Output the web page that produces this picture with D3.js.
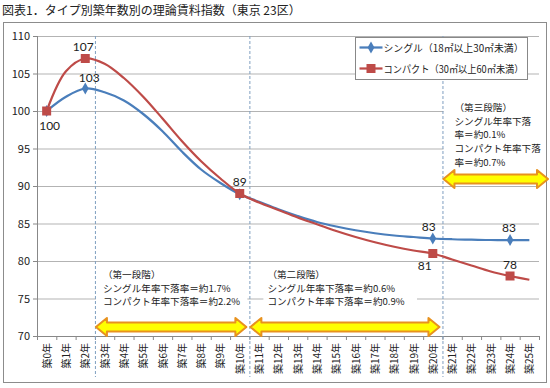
<!DOCTYPE html>
<html lang="ja">
<head>
<meta charset="UTF-8">
<title>理論賃料指数</title>
<script src="https://cdn.jsdelivr.net/npm/d3@7"></script>
<style>
  * { margin: 0; padding: 0; }
  body { background: #fff; }
  text { font-family: "Noto Sans CJK JP", "Noto Sans", sans-serif; fill: #222; }
</style>
</head>
<body>
<svg></svg>
<script>
  // data
  const years = d3.range(26).map(i => `築${i}年`);
  const single = [100, 101.9, 103, 102.5, 101.4, 99.6, 97.3, 94.6, 92.2, 90.4, 88.9, 87.9, 86.9, 86.0, 85.2, 84.6, 84.1, 83.7, 83.4, 83.2, 83.0, 82.9, 82.85, 82.8, 82.8, 82.8];
  const compact = [100, 105.3, 107, 106.3, 104.4, 101.9, 99.0, 96.0, 93.3, 91.0, 89.0, 87.8, 86.8, 85.8, 84.9, 84.0, 83.2, 82.5, 81.9, 81.4, 81.0, 80.2, 79.4, 78.6, 78.0, 77.5];
  const markerIdx = [0, 2, 10, 20, 24];
  const yTicks = [70, 75, 80, 85, 90, 95, 100, 105, 110];
  const seriesNames = ['シングル（18㎡以上30㎡未満）', 'コンパクト（30㎡以上60㎡未満）'];
  const phaseBreaks = [3, 11, 21];   // dashed lines before these years
  const phaseText = [
    ['（第一段階）', 'シングル年率下落率＝約1.7%', 'コンパクト年率下落率＝約2.2%'],
    ['（第二段階）', 'シングル年率下落率＝約0.6%', 'コンパクト年率下落率＝約0.9%'],
    ['（第三段階）', 'シングル年率下落', '率＝約0.1%', 'コンパクト年率下落', '率＝約0.7%']
  ];

  const W = 550, H = 388;
  const svg = d3.select('svg').attr('width', W).attr('height', H);
  const margin = { left: 37, top: 36, right: 11, bottom: 52 };
  const x = d3.scaleBand().domain(years).range([margin.left, W - margin.right]);
  const y = d3.scaleLinear().domain([70, 110]).range([H - margin.bottom, margin.top]);
  const cx = i => x(years[i]) + x.bandwidth() / 2;
  const bx = i => margin.left + i * x.step();   // band boundary

  const blue = '#4a7ebb', red = '#be4b48';

  // title + frame
  svg.append('text').attr('x', 2).attr('y', 15).style('font-size', '12px').text('図表1．タイプ別築年数別の理論賃料指数（東京 23区）');
  svg.append('rect').attr('x', 3.5).attr('y', 22.5).attr('width', 543).attr('height', 360)
    .attr('fill', 'none').attr('stroke', '#8c8c8c');

  // grid
  const g = svg.append('g');
  g.selectAll('.grid').data(yTicks.slice(1)).enter().append('line')
    .attr('x1', margin.left).attr('x2', W - margin.right)
    .attr('y1', d => y(d) + 0.5).attr('y2', d => y(d) + 0.5)
    .attr('stroke', '#b3b3b3');

  // white boxes behind annotations
  const boxes = [[bx(3) + 1, 263, bx(11) - 2, 311], [bx(11) + 14, 265, 417, 311], [bx(21) + 1, 100, W - 4, 170]];
  g.selectAll('.box').data(boxes).enter().append('rect')
    .attr('x', d => d[0]).attr('y', d => d[1]).attr('width', d => d[2] - d[0]).attr('height', d => d[3] - d[1])
    .attr('fill', '#fff');

  // axes
  g.append('line').attr('x1', margin.left + 0.5).attr('x2', margin.left + 0.5).attr('y1', y(110)).attr('y2', y(70)).attr('stroke', '#888');
  g.append('line').attr('x1', margin.left).attr('x2', W - margin.right).attr('y1', y(70) + 0.5).attr('y2', y(70) + 0.5).attr('stroke', '#888');
  g.selectAll('.yt').data(yTicks).enter().append('line')
    .attr('x1', margin.left - 4).attr('x2', margin.left).attr('y1', d => y(d) + 0.5).attr('y2', d => y(d) + 0.5).attr('stroke', '#888');
  g.selectAll('.yl').data(yTicks).enter().append('text')
    .attr('x', margin.left - 7).attr('y', d => y(d) + 4).attr('text-anchor', 'end')
    .style('font-size', '11px').text(d => d);
  g.selectAll('.xt').data(d3.range(27)).enter().append('line')
    .attr('x1', d => bx(d) + 0.5).attr('x2', d => bx(d) + 0.5).attr('y1', y(70)).attr('y2', y(70) + 4).attr('stroke', '#888');
  g.selectAll('.xl').data(years).enter().append('text')
    .attr('transform', (d, i) => `translate(${cx(i) + 4},${y(70) + 7}) rotate(-90)`)
    .attr('text-anchor', 'end').style('font-size', '10px').text(d => d);

  // phase dashed lines
  g.selectAll('.ph').data(phaseBreaks).enter().append('line')
    .attr('x1', d => bx(d) + 0.5).attr('x2', d => bx(d) + 0.5).attr('y1', y(110)).attr('y2', 377)
    .attr('stroke', '#7f9fc0').attr('stroke-dasharray', '3,2');

  // arrows
  const arrow = (x0, x1, cy) => {
    const hh = 9, bh = 4.5, hl = 11;
    return `M${x0},${cy} L${x0 + hl},${cy - hh} L${x0 + hl},${cy - bh} L${x1 - hl},${cy - bh} L${x1 - hl},${cy - hh} L${x1},${cy} ` +
      `L${x1 - hl},${cy + hh} L${x1 - hl},${cy + bh} L${x0 + hl},${cy + bh} L${x0 + hl},${cy + hh} Z`;
  };
  const arrows = [[bx(3) + 1, bx(11) - 3, 327], [bx(11) + 1, bx(21) - 3, 327], [bx(21) + 1, W - 2, 179]];
  g.selectAll('.arr').data(arrows).enter().append('path')
    .attr('d', d => arrow(d[0], d[1], d[2]))
    .attr('fill', '#ffff00').attr('stroke', '#e8921e').attr('stroke-width', 2).attr('stroke-linejoin', 'round');

  // annotation texts
  const textPos = [[bx(3) + 8, 278, 13.5], [bx(11) + 18, 278, 13.5], [bx(21) + 12, 111, 13.7]];
  textPos.forEach((p, k) => {
    g.selectAll(null).data(phaseText[k]).enter().append('text')
      .attr('x', p[0]).attr('y', (d, i) => p[1] + i * p[2])
      .style('font-size', '9.6px').text(d => d);
  });

  // lines
  const line = d3.line().x((d, i) => cx(i)).y(d => y(d)).curve(d3.curveCatmullRom.alpha(0.5));
  g.append('path').datum(single).attr('d', line).attr('fill', 'none').attr('stroke', blue).attr('stroke-width', 2.25);
  g.append('path').datum(compact).attr('d', line).attr('fill', 'none').attr('stroke', red).attr('stroke-width', 2.25);

  // markers
  const diamond = d3.symbol().type(d3.symbolDiamond).size(40);
  g.selectAll('.mb').data(markerIdx).enter().append('path')
    .attr('d', diamond).attr('transform', i => `translate(${cx(i)},${y(single[i])})`).attr('fill', blue);
  g.selectAll('.mr').data(markerIdx).enter().append('rect')
    .attr('x', i => cx(i) - 4.5).attr('y', i => y(compact[i]) - 4.5).attr('width', 9).attr('height', 9).attr('fill', red);

  // data labels
  const lab = (txt, px, py) => g.append('text').attr('x', px).attr('y', py).attr('text-anchor', 'middle')
    .style('font-family', 'Lato, "Open Sans", sans-serif').style('font-size', '12px').text(txt);
  lab(Math.round(compact[0]), cx(0) + 3, y(compact[0]) + 19);
  lab(Math.round(compact[2]), cx(2) - 2, y(compact[2]) - 8);
  lab(Math.round(single[2]), cx(2) + 4, y(single[2]) - 7);
  lab(Math.round(compact[10]), cx(10), y(compact[10]) - 8);
  lab(Math.round(single[20]), cx(20) - 4, y(single[20]) - 8);
  lab(Math.round(compact[20]), cx(20) - 8, y(compact[20]) + 16);
  lab(Math.round(single[24]), cx(24) - 1, y(single[24]) - 8);
  lab(Math.round(compact[24]), cx(24), y(compact[24]) - 7);

  // legend
  const lg = svg.append('g').attr('transform', 'translate(355.5,37.5)');
  lg.append('rect').attr('width', 172).attr('height', 42).attr('fill', '#fff').attr('stroke', '#888');
  [blue, red].forEach((c, i) => {
    const ly = 10 + i * 21;
    lg.append('line').attr('x1', 4).attr('x2', 27).attr('y1', ly).attr('y2', ly).attr('stroke', c).attr('stroke-width', 2.25);
    if (i === 0) lg.append('path').attr('d', diamond).attr('transform', `translate(15.5,${ly})`).attr('fill', c);
    else lg.append('rect').attr('x', 11).attr('y', ly - 4.5).attr('width', 9).attr('height', 9).attr('fill', c);
    lg.append('text').attr('x', 28).attr('y', ly + 4).style('font-size', '9.8px').attr('textLength', 140)
      .attr('lengthAdjust', 'spacingAndGlyphs').text(seriesNames[i]);
  });
</script>
</body>
</html>
